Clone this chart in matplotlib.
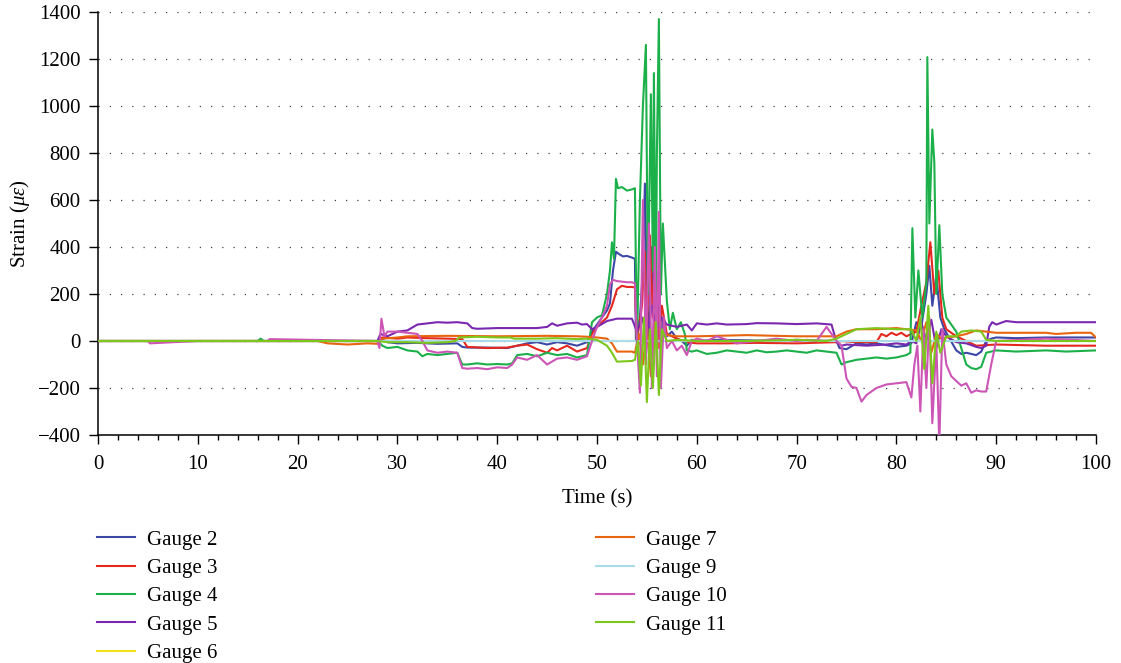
import matplotlib
matplotlib.use("Agg")
import matplotlib.pyplot as plt
from matplotlib.ticker import MultipleLocator, FuncFormatter

# ---------------- data: (time s, strain) ----------------
labels = ["Gauge 2", "Gauge 3", "Gauge 4", "Gauge 5", "Gauge 6",
          "Gauge 7", "Gauge 9", "Gauge 10", "Gauge 11"]
colors = ["#3c47a6", "#e5281e", "#1cb04a", "#7a28b0", "#f3e11c",
          "#e8650f", "#a9dbe9", "#cc55b6", "#7cc71c"]

gauge2 = [(0, 0), (28, 0), (28.3, 10), (29, -5), (30, -10), (32, -8), (34, -12), (36, -10), (36.5, -25),
          (37, -28), (39, -28), (41, -30), (42, -20), (43, -10), (44, -5), (45, -15), (46, -5), (47, -10),
          (48, -20), (49, -5), (49.5, 40), (50, 70), (50.5, 100), (51, 130), (51.3, 160), (51.6, 300),
          (51.9, 380), (52.2, 370), (52.6, 360), (53, 362), (53.5, 355), (53.8, 350), (53.9, 0), (54.3, 100),
          (54.6, 300), (54.8, 670), (55.0, 200), (55.2, -50), (55.4, 400), (55.6, 100), (55.8, 500), (56.0, 0),
          (56.2, 300), (56.4, -80), (56.6, 100), (57, 20), (57.5, 40), (58, 10), (58.5, 0), (59, -20),
          (59.5, 5), (60, 0), (62, 5), (65, 3), (68, 0), (70, 5), (72, 2), (74, 0), (74.3, -30), (75, -35),
          (76, -10), (77, -15), (78, -10), (80, -25), (81, -20), (81.5, -10), (82, 80), (82.5, 60), (83, 200),
          (83.3, 320), (83.6, 150), (84, 280), (84.4, 100), (84.8, 50), (85.2, 20), (86, -40), (86.5, -55),
          (87, -50), (88, -60), (88.5, -45), (89, 0), (89.5, 10), (90, 15), (92, 12), (95, 15), (98, 15),
          (100, 15)]

gauge3 = [(0, 0), (28, 0), (28.5, 15), (30, 10), (31, 15), (33, 12), (35, 10), (36.5, 8), (37, -25), (39, -30),
          (41, -28), (42, -20), (43, -15), (44, -35), (45, -50), (45.5, -30), (46, -40), (47, -20), (48, -45),
          (49, -30), (49.5, 30), (50, 60), (50.5, 80), (51, 100), (51.5, 150), (52, 220), (52.5, 235),
          (53, 230), (53.5, 230), (53.8, 228), (54, 0), (54.5, 150), (54.8, 380), (55, 50), (55.3, 450),
          (55.6, 100), (55.9, 250), (56.2, 0), (56.5, 150), (57, 30), (58, 10), (59, -5), (60, -10), (63, -10),
          (66, -8), (70, -10), (74, -5), (74.5, 0), (76, -5), (78, -5), (78.5, 30), (79, 20), (79.5, 35),
          (80, 25), (80.5, 35), (81, 20), (81.5, 30), (82, 40), (82.5, 150), (83, 250), (83.4, 420),
          (83.8, 200), (84.2, 300), (84.6, 100), (85, 50), (86, 20), (88, -20), (90, -15), (95, -20),
          (100, -20)]

gauge4 = [(0, 0), (16, 0), (16.3, 10), (16.6, 0), (28, 0), (28.5, -20), (29, -30), (30, -25), (31, -40),
          (32, -45), (32.5, -65), (33, -55), (34, -60), (35, -55), (36, -50), (36.5, -100), (37, -100),
          (38, -95), (39, -100), (40, -98), (41, -100), (41.5, -95), (42, -60), (43, -55), (44, -65),
          (45, -50), (46, -60), (47, -55), (48, -70), (49, -60), (49.5, 80), (50, 100), (50.5, 110),
          (51, 200), (51.3, 300), (51.5, 420), (51.7, 350), (51.9, 690), (52.1, 650), (52.5, 655), (53, 640),
          (53.5, 645), (53.8, 650), (54.0, -30), (54.3, 600), (54.6, 1000), (54.9, 1260), (55.1, 200),
          (55.4, 1050), (55.6, 300), (55.7, 1140), (55.9, 100), (56.0, 800), (56.2, 1370), (56.4, 200),
          (56.6, 500), (57, 170), (57.3, 50), (57.6, 120), (58, 50), (58.4, 80), (58.8, 30), (59, -40),
          (59.5, -45), (60, -40), (61, -55), (62, -50), (63, -40), (64, -45), (65, -50), (66, -40),
          (67, -48), (68, -45), (69, -40), (70, -45), (71, -50), (72, -40), (73, -45), (74, -50),
          (74.5, -100), (75, -90), (75.5, -85), (76, -80), (77, -75), (78, -70), (79, -75), (80, -70),
          (81, -60), (81.4, -50), (81.6, 480), (81.9, 100), (82.2, 300), (82.6, 100), (83.0, 250),
          (83.1, 1208), (83.3, 500), (83.6, 900), (83.8, 760), (84.0, 200), (84.3, 493), (84.6, 200),
          (85, 100), (85.5, 70), (86, 40), (87, -100), (87.5, -115), (88, -120), (88.5, -110), (89, -50),
          (90, -40), (92, -45), (95, -40), (97, -45), (100, -40)]

gauge5 = [(0, 0), (28, 0), (28.3, 30), (29, 20), (30, 40), (31, 45), (32, 70), (33, 75), (34, 80), (35, 78),
          (36, 80), (37, 75), (37.5, 55), (38, 52), (40, 55), (42, 55), (44, 55), (45, 60), (45.5, 75),
          (46, 65), (47, 75), (48, 78), (48.5, 70), (49, 72), (49.5, 50), (50, 60), (51, 85), (51.5, 90),
          (52, 95), (53, 95), (53.5, 95), (54, 40), (54.5, 100), (55, 20), (55.5, 150), (56, 50), (56.5, 100),
          (57, 70), (58, 60), (59, 70), (59.5, 45), (60, 75), (61, 70), (62, 75), (63, 70), (65, 72),
          (66, 76), (68, 75), (70, 72), (72, 75), (73.5, 70), (74, -5), (74.5, -20), (75, -15), (77, -20),
          (79, -15), (80, -10), (81, -15), (81.5, 0), (82, -10), (82.5, 80), (83, 0), (83.5, 90), (84, -30),
          (84.5, 50), (85, 20), (86, -5), (87, -10), (88, -25), (88.5, -30), (89, -20), (89.3, 60),
          (89.6, 80), (90, 70), (91, 85), (92, 80), (95, 80), (100, 80)]

gauge6 = [(0, 0), (28, 0), (50, 0), (74, 0), (100, 0)]

gauge7 = [(0, 0), (22, 0), (23, -10), (25, -15), (27, -10), (28, -12), (28.5, 10), (30, 15), (31, 20),
          (35, 22), (40, 20), (45, 22), (48, 20), (49, 18), (50, 15), (51, 10), (51.5, -10), (52, -45),
          (53.5, -45), (53.8, -50), (54.2, 30), (54.6, -100), (55, 60), (55.4, -150), (55.8, 80),
          (56.2, -30), (56.6, 20), (57, 25), (58, 20), (60, 20), (65, 25), (70, 20), (74, 20), (74.5, 30),
          (75, 40), (76, 50), (78, 50), (80, 55), (81, 50), (82, 45), (82.5, 0), (83, 80), (83.5, -50),
          (84, 30), (84.5, 10), (85, 15), (86, 20), (87, 30), (88, 45), (89, 40), (90, 35), (92, 35),
          (95, 35), (96, 30), (98, 35), (99.5, 35), (100, 15)]

gauge9 = [(0, 0), (100, 0)]

gauge10 = [(0, 0), (5, 0), (5.2, -10), (10, 0), (17, 0), (17.2, 8), (28, 0), (28.2, -30), (28.4, 95),
           (28.7, 20), (29, 40), (30, 40), (31, 35), (32, 30), (32.5, 0), (33, -40), (34, -50), (35, -45),
           (36, -50), (36.5, -115), (37, -118), (38, -115), (39, -120), (40, -112), (41, -115), (41.5, -100),
           (42, -70), (43, -80), (44, -60), (45, -100), (46, -75), (47, -70), (48, -80), (49, -65), (49.5, 0),
           (50, 60), (50.5, 100), (51, 150), (51.3, 240), (51.6, 260), (52, 255), (53, 250), (53.5, 250),
           (53.8, 245), (54.0, 0), (54.3, -220), (54.6, 600), (54.9, -100), (55.2, 500), (55.5, -200),
           (55.8, 400), (56.0, -150), (56.2, 550), (56.4, -200), (56.7, 100), (57, -30), (57.5, 0),
           (58, -40), (58.5, -20), (59, -60), (59.5, 0), (60, 10), (61, 0), (62, 20), (64, -10), (66, 0),
           (68, 10), (70, 0), (71, 5), (72, 0), (73, 60), (74, 0), (74.5, -20), (75, -160), (75.5, -195),
           (76, -200), (76.5, -258), (77, -230), (78, -200), (79, -185), (80, -180), (81, -175), (81.5, -240),
           (81.8, -100), (82.1, -20), (82.4, -300), (82.7, 50), (83, -200), (83.3, 100), (83.6, -350),
           (84.0, 0), (84.3, -440), (84.6, 50), (85, -100), (85.5, -150), (86, -170), (86.5, -190),
           (87, -180), (87.5, -220), (88, -210), (88.5, -215), (89, -215), (89.5, -100), (90, 0), (95, 10),
           (100, 0)]

gauge11 = [(0, 0), (28, 0), (29, -5), (31, -5), (33, -8), (35, -5), (35.8, 0), (36.2, 15), (38, 18), (40, 15),
           (41.3, 15), (41.7, 10), (44, 10), (46, 12), (48, 8), (49, 10), (50, 5), (51, -20), (51.5, -50),
           (52, -88), (53.5, -85), (53.8, -80), (54.1, 0), (54.4, -190), (54.7, 100), (55.0, -260),
           (55.3, 50), (55.6, -200), (55.9, 80), (56.2, -230), (56.5, 50), (57, 0), (58, 5), (60, 0),
           (65, 0), (70, 5), (73, 0), (74, 10), (75, 30), (76, 50), (78, 55), (80, 50), (81.5, 50), (82, 0),
           (82.4, 100), (82.8, -120), (83.2, 150), (83.6, -180), (84, 40), (84.4, -50), (85, 20), (86, 20),
           (86.5, 40), (87.5, 45), (88.5, 40), (89, 5), (90, 0), (95, 0), (100, 0)]

series = [gauge2, gauge3, gauge4, gauge5, gauge6, gauge7, gauge9, gauge10, gauge11]

x_ticks = [0, 10, 20, 30, 40, 50, 60, 70, 80, 90, 100]
y_ticks = [-400, -200, 0, 200, 400, 600, 800, 1000, 1200, 1400]

# ---------------- style ----------------
plt.rcParams["font.family"] = ["Liberation Serif", "DejaVu Serif"]
plt.rcParams["mathtext.fontset"] = "custom"
plt.rcParams["mathtext.rm"] = "Liberation Serif"
plt.rcParams["mathtext.it"] = "Liberation Serif:italic"

W, H = 1121, 663
FS = 15
fig = plt.figure(figsize=(W / 100, H / 100), dpi=100)
ax = fig.add_axes([98 / W, 1 - 435 / H, (1096 - 98) / W, (435 - 12) / H])

lines = []
for pts, c, lab in zip(series, colors, labels):
    t = [p[0] for p in pts]
    v = [p[1] for p in pts]
    ln, = ax.plot(t, v, color=c, lw=1.5, label=lab, zorder=3)
    lines.append(ln)

ax.set_xlim(0, 100)
ax.set_ylim(-400, 1400)
ax.set_xticks(x_ticks)
ax.set_yticks(y_ticks)
ax.xaxis.set_minor_locator(MultipleLocator(2))
ax.yaxis.set_major_formatter(FuncFormatter(lambda v, p: f"{int(v)}".replace("-", "\u2212")))

for s in ["top", "right"]:
    ax.spines[s].set_visible(False)
for s in ["left", "bottom"]:
    ax.spines[s].set_linewidth(1.1)

ax.tick_params(axis="both", which="major", direction="out", length=6.5, width=1.0, labelsize=FS, pad=6)
ax.tick_params(axis="x", which="minor", direction="out", length=3.5, width=1.0)
ax.tick_params(axis="x", which="major", pad=8)

ax.yaxis.grid(True, linestyle=(0, (1, 8)), color="#444444", lw=0.9)
ax.set_axisbelow(True)

ax.set_xlabel("Time (s)", fontsize=FS, labelpad=11)
ax.set_ylabel(r"Strain ($\mu\varepsilon$)", fontsize=FS, labelpad=4)

leg_kw = dict(loc="upper left", frameon=False, fontsize=FS, handlelength=1.8,
              handletextpad=0.62, labelspacing=0.42, borderpad=0, borderaxespad=0)
fig.legend(lines[:5], labels[:5], bbox_to_anchor=(97 / W, 1 - 530 / H), **leg_kw)
fig.legend(lines[5:], labels[5:], bbox_to_anchor=(596 / W, 1 - 530 / H), **leg_kw)

fig.savefig("out.png", dpi=100)
